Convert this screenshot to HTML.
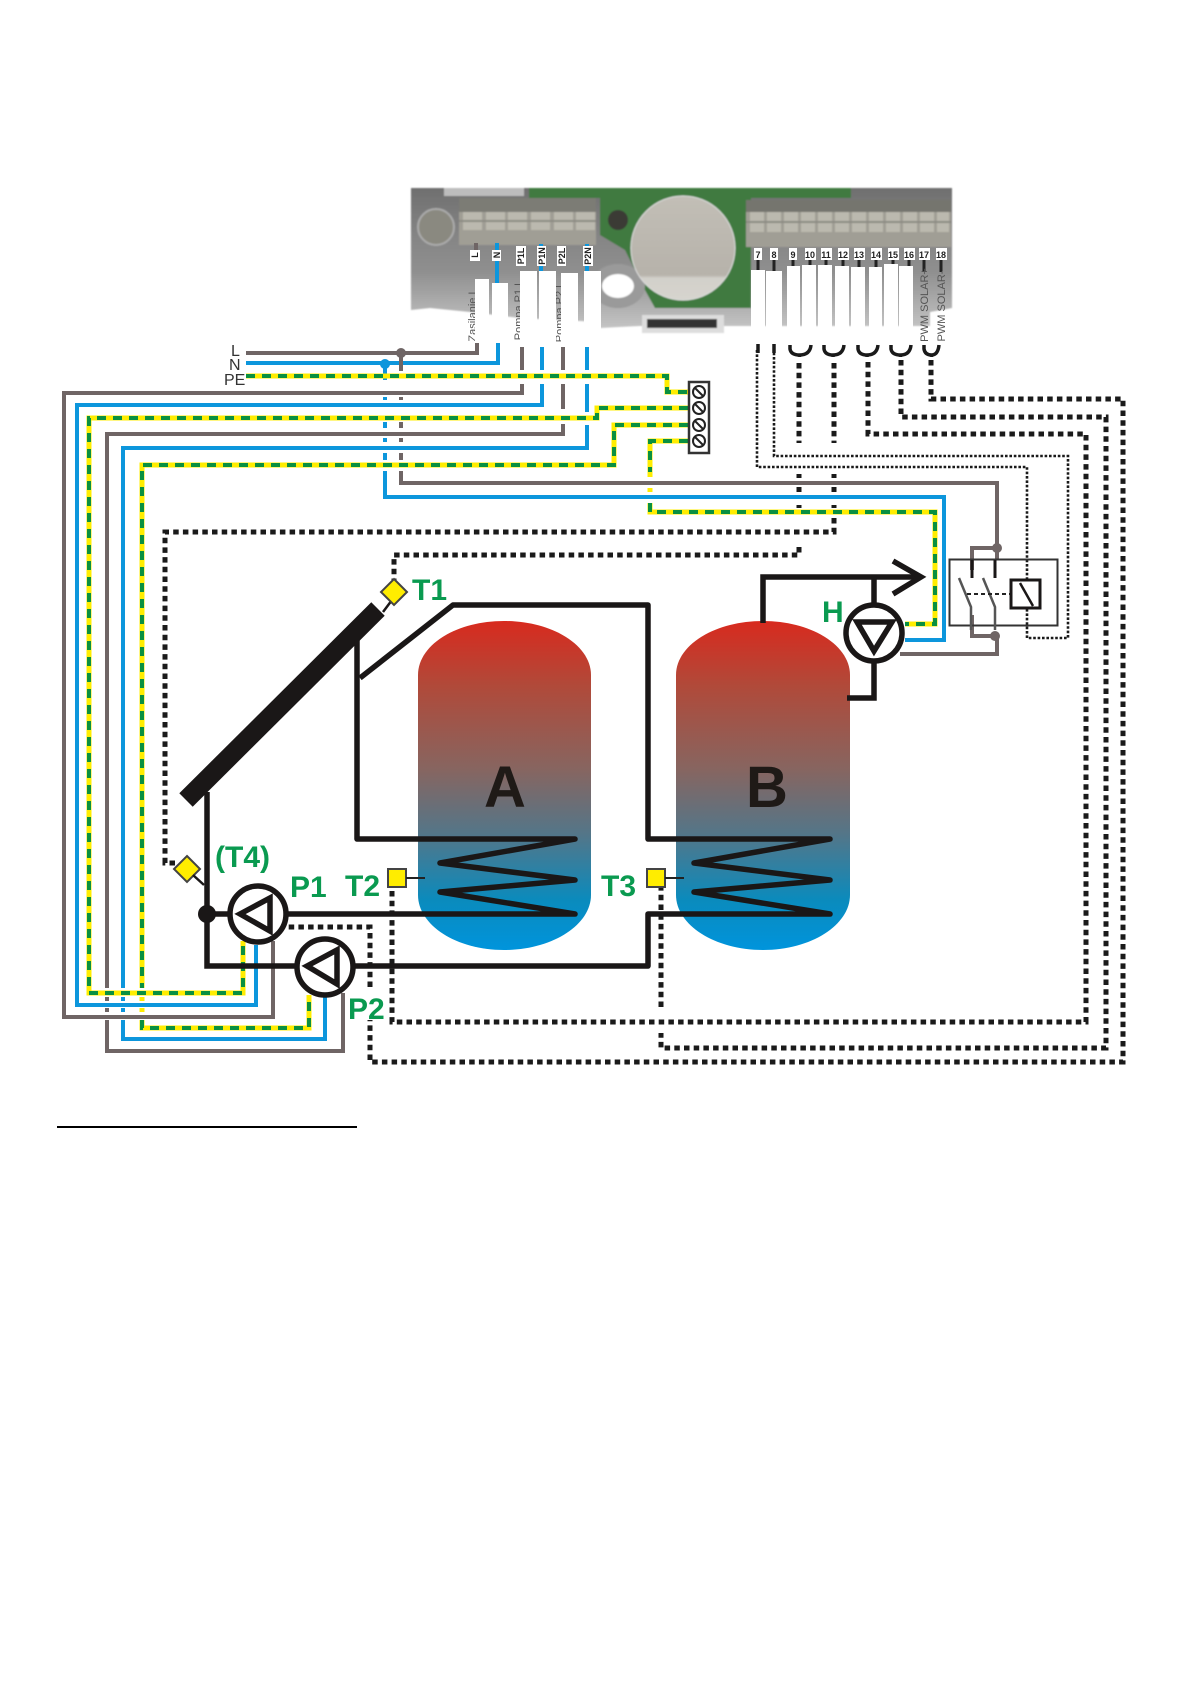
<!DOCTYPE html>
<html><head><meta charset="utf-8"><title>Diagram</title>
<style>
html,body{margin:0;padding:0;background:#fff}
svg{display:block}
text{font-family:"Liberation Sans",sans-serif}
.br{fill:none;stroke:#6f6565;stroke-width:4}
.bl{fill:none;stroke:#0d96dc;stroke-width:4}
.y{fill:none;stroke:#ffed00;stroke-width:5}
.g{fill:none;stroke:#0a9040;stroke-width:4;stroke-dasharray:9 7}
.d{fill:none;stroke:#1a1a1a;stroke-width:5;stroke-dasharray:5.5 4.2}
.t{fill:none;stroke:#1a1a1a;stroke-width:2.6;stroke-dasharray:2.6 1.8}
.k{fill:none;stroke:#1a1717;stroke-width:5.5}
.gt{fill:#0a9a50;font-weight:bold;font-size:30px}
.lb{fill:#222;font-size:9px;font-weight:bold;text-anchor:middle}
.sm{fill:#555;font-size:11px;text-anchor:middle}
</style></head><body>
<svg width="1191" height="1684" viewBox="0 0 1191 1684" xmlns="http://www.w3.org/2000/svg">
<defs>
<linearGradient id="tank" x1="0" y1="0" x2="0" y2="1">
<stop offset="0" stop-color="#d82a1e"/><stop offset=".2" stop-color="#b04a3a"/>
<stop offset=".45" stop-color="#876560"/><stop offset=".65" stop-color="#537689"/>
<stop offset=".85" stop-color="#0a8bbd"/><stop offset="1" stop-color="#0094dc"/>
</linearGradient>
<linearGradient id="base" x1="0" y1="0" x2="0" y2="1">
<stop offset="0" stop-color="#6f6f6f"/><stop offset=".35" stop-color="#858585"/>
<stop offset=".6" stop-color="#8f8f8f"/><stop offset="1" stop-color="#c4c4c4"/>
</linearGradient>
<linearGradient id="knob" x1="0" y1="0" x2="0" y2="1">
<stop offset="0" stop-color="#c2beb6"/><stop offset=".76" stop-color="#b6b2aa"/><stop offset=".79" stop-color="#d2d0ca"/><stop offset="1" stop-color="#d6d4ce"/>
</linearGradient>
<filter id="bl"><feGaussianBlur stdDeviation="0.9"/></filter>
</defs>

<!-- controller board -->
<g filter="url(#bl)">
<path d="M411 188H952V308L930 312V326H640L600 328V322L520 318L470 312L430 308L411 310Z" fill="url(#base)"/>
<rect x="444" y="188" width="80" height="8" fill="#bdbdbd"/>
<path d="M529 188H851V198H751V308H655L645 290L625 250L600 235V198H529Z" fill="#3f7a3f"/>
<circle cx="436" cy="227" r="18" fill="#8a8980" stroke="#aaa" stroke-width="2"/>
<rect x="459" y="198" width="137" height="14" fill="#7c7c75"/>
<rect x="459" y="212" width="137" height="33" fill="#a09e95"/>
<rect x="746" y="200" width="205" height="12" fill="#74746e"/>
<rect x="746" y="212" width="205" height="35" fill="#a09e95"/>
<g fill="#bbb9af">
<rect x="463" y="212" width="19" height="18"/><rect x="486" y="212" width="19" height="18"/><rect x="508" y="212" width="19" height="18"/><rect x="531" y="212" width="19" height="18"/><rect x="554" y="212" width="19" height="18"/><rect x="576" y="212" width="19" height="18"/>
<rect x="750" y="212" width="14" height="20"/><rect x="767" y="212" width="14" height="20"/><rect x="784" y="212" width="14" height="20"/><rect x="801" y="212" width="14" height="20"/><rect x="818" y="212" width="14" height="20"/><rect x="835" y="212" width="14" height="20"/><rect x="852" y="212" width="14" height="20"/><rect x="869" y="212" width="14" height="20"/><rect x="886" y="212" width="14" height="20"/><rect x="903" y="212" width="14" height="20"/><rect x="920" y="212" width="14" height="20"/><rect x="937" y="212" width="12" height="20"/>
</g>
<path d="M459 221H596M746 222H951" stroke="#8c8b83" stroke-width="2"/>
<circle cx="618" cy="220" r="10" fill="#3a3a34"/>
<ellipse cx="618" cy="286" rx="27" ry="22" fill="#9a9a9a"/>
<ellipse cx="618" cy="286" rx="16" ry="12" fill="#fff"/>
<circle cx="683" cy="248" r="52" fill="url(#knob)" stroke="#ddd" stroke-width="1"/>
<rect x="642" y="315" width="82" height="18" fill="#ddd"/>
<rect x="647" y="319" width="70" height="9" fill="#333"/>
</g>

<!-- terminal stubs -->
<path class="br" d="M476 243V252"/>
<path class="bl" d="M497 243V285"/>
<path class="bl" stroke-width="3" d="M541 244V275"/>
<path class="bl" d="M587 244V275"/>
<path d="M924 260V272M941 260V272M758 260V272M774 260V272M793 260V272M810 260V272M826 260V272M843 260V272M859 260V272M876 260V272M893 260V272M909 260V272" fill="none" stroke="#222" stroke-width="3"/>

<!-- terminal tags -->
<g fill="#fff">
<rect x="470" y="250" width="10" height="11"/><rect x="492" y="250" width="9" height="11"/><rect x="516" y="246" width="10" height="20"/><rect x="537" y="246" width="9" height="20"/><rect x="557" y="246" width="9" height="20"/><rect x="583" y="246" width="10" height="20"/>
<rect x="754" y="248" width="8" height="12"/><rect x="770" y="248" width="8" height="12"/><rect x="789" y="248" width="8" height="12"/><rect x="805" y="248" width="11" height="12"/><rect x="821" y="248" width="11" height="12"/><rect x="838" y="248" width="11" height="12"/><rect x="854" y="248" width="11" height="12"/><rect x="871" y="248" width="11" height="12"/><rect x="888" y="248" width="11" height="12"/><rect x="904" y="248" width="11" height="12"/><rect x="919" y="248" width="11" height="12"/><rect x="936" y="248" width="11" height="12"/>
</g>
<g class="lb">
<text transform="translate(478,255) rotate(-90)">L</text>
<text transform="translate(500,255) rotate(-90)">N</text>
<text transform="translate(524,256) rotate(-90)">P1L</text>
<text transform="translate(545,256) rotate(-90)">P1N</text>
<text transform="translate(565,256) rotate(-90)">P2L</text>
<text transform="translate(591,256) rotate(-90)">P2N</text>
<text x="758" y="258">7</text><text x="774" y="258">8</text><text x="793" y="258">9</text><text x="810" y="258">10</text><text x="826" y="258">11</text><text x="843" y="258">12</text><text x="859" y="258">13</text><text x="876" y="258">14</text><text x="893" y="258">15</text><text x="909" y="258">16</text><text x="924" y="258">17</text><text x="941" y="258">18</text>
</g>
<g class="sm">
<text transform="translate(476,315) rotate(-90)">Zasilanie L</text>
<text transform="translate(522,310) rotate(-90)">Pompa P1 L</text>
<text transform="translate(563,312) rotate(-90)">Pompa P2 L</text>
<text transform="translate(928,305) rotate(-90)">PWM SOLAR+</text>
<text transform="translate(945,306) rotate(-90)">PWM SOLAR-</text>
</g>

<!-- white masks over labels -->
<g fill="#fff">
<rect x="475" y="279" width="14" height="64"/><rect x="492" y="283" width="16" height="60"/><rect x="520" y="271" width="17" height="77"/><rect x="539" y="271" width="17" height="77"/><rect x="561" y="273" width="17" height="77"/><rect x="584" y="271" width="17" height="77"/>
<rect x="751" y="270" width="14" height="70"/><rect x="766" y="271" width="16" height="69"/><rect x="787" y="266" width="13" height="74"/><rect x="802" y="265" width="14" height="75"/><rect x="818" y="265" width="14" height="75"/><rect x="835" y="266" width="14" height="74"/><rect x="851" y="267" width="14" height="73"/><rect x="869" y="267" width="13" height="73"/><rect x="884" y="264" width="14" height="76"/><rect x="899" y="266" width="14" height="74"/>
</g>

<!-- L N wires and branches -->
<path class="br" d="M246 353H477V343"/>
<path class="bl" d="M246 363H498V343"/>
<path class="br" d="M401 353V371M401 397V400M401 422V428M401 438V442M401 453V460M401 471V483H997V548M972 570V548H997M997 560V548"/>
<path class="bl" d="M385 363V380M385 397V400M385 422V428M385 438V442M385 453V460M385 471V497H944V640H905"/>
<circle cx="401" cy="353" r="5" fill="#6f6565"/>
<circle cx="385" cy="364" r="5" fill="#0d96dc"/>

<!-- output stubs -->
<path class="br" d="M522 347V370M563 347V370M563 384V409"/>
<path class="bl" d="M542 347V370M587 347V370M587 384V412"/>
<path class="br" d="M522 384V393H64V1017H273V941"/>
<path class="bl" d="M542 384V405H77V1005H256V945"/>
<path class="br" d="M563 424V434H107V988M107 997V1001M107 1008V1012M107 1020V1051H343V993"/>
<path class="bl" d="M587 425V448H123V988M123 997V1001M123 1008V1012M123 1020V1039H325V997"/>

<!-- PE yellow/green wires -->
<path class="y" d="M246 376H667V392H688"/><path class="g" d="M246 376H667V392H688"/>
<path class="y" d="M688 408H597V418H89V993H243V941"/><path class="g" d="M688 408H597V418H89V993H243V941"/>
<path class="y" d="M688 425H614V465H142V988M142 997V1001M142 1008V1012M142 1020V1028H309V995"/><path class="g" d="M688 425H614V465H142V988M142 1020V1028H309V995"/>
<path class="y" d="M688 441H650V477M650 488V492M650 503V512H935V624H905"/><path class="g" d="M688 441H650V472M650 503V512H935V624H905"/>

<!-- terminal bar -->
<rect x="689" y="382" width="20" height="71" fill="#fff" stroke="#333" stroke-width="2.5"/>
<g fill="#fff" stroke="#222" stroke-width="2">
<circle cx="699" cy="392" r="6"/><circle cx="699" cy="408" r="6"/><circle cx="699" cy="425" r="6"/><circle cx="699" cy="441" r="6"/>
</g>
<path d="M695 388L703 396M695 404L703 412M695 421L703 429M695 437L703 445" stroke="#222" stroke-width="2"/>

<text x="231" y="356" font-size="16" fill="#333">L</text>
<text x="229" y="370" font-size="16" fill="#333">N</text>
<text x="224" y="385" font-size="16" fill="#333">PE</text>

<!-- signal wiring -->
<path d="M790 345V349Q791 355 799.500 355V357M799.500 355Q810 355 811 345M824 345V349Q825 355 833 355V357M833 355Q843 355 844 345M858 345V349Q859 355 867 355V357M867 355Q877 355 878 345M891 345V349Q892 355 900.500 355V357M900.500 355Q910 355 911 345M924 345V349Q925 355 931.500 355V357M931.500 355Q938 355 939 345" fill="none" stroke="#1a1a1a" stroke-width="3.500"/>
<path d="M758 344V353M774 344V353" stroke="#1a1a1a" stroke-width="3.500"/>
<path class="t" d="M757 350V467H1027V579M1027 609V638H1068V456H774V350"/>
<path class="d" d="M799 363V443M834 363V443M799 474V478M834 474V478M799 487V492M834 487V492M799 505V508M834 505V508M834 518V532H165V863H176"/>
<path class="d" d="M799 547V555H394V582"/>
<path class="d" d="M868 362V434H1086V1022H392V887"/>
<path class="d" d="M901 360V417H1106V1048H664H661V1033M661 1007V888"/>
<path class="d" d="M931 360V399H1123V1062H370V1020M370 987V927H287"/>

<!-- tanks -->
<path d="M418 675C418 645 456 621 504 621C552 621 591 645 591 675V895C591 925 552 950 504 950C456 950 418 925 418 895Z" fill="url(#tank)"/>
<path d="M676 675C676 645 715 621 763 621C811 621 850 645 850 675V895C850 925 811 950 763 950C715 950 676 925 676 895Z" fill="url(#tank)"/>
<text x="505" y="807" font-size="58" font-weight="bold" fill="#1f1a17" text-anchor="middle">A</text>
<text x="767" y="807" font-size="58" font-weight="bold" fill="#1f1a17" text-anchor="middle">B</text>

<!-- collector -->
<path d="M186 800L378 609" stroke="#1a1717" stroke-width="19" fill="none"/>
<path d="M383 612L392 600" stroke="#1a1717" stroke-width="2.500"/>
<polygon points="394,579 407,592 394,605 381,592" fill="#ffed00" stroke="#444" stroke-width="2"/>

<!-- hydraulic pipes -->
<path class="k" d="M207 792V966H300"/>
<path class="k" d="M207 914H232"/>
<path class="k" stroke-linejoin="round" d="M357 640V839H575L440 863L575 880L440 892L575 914H285"/>
<path class="k" stroke-linejoin="round" d="M360 678L453 605H648V839H830L694 863L830 880L694 892L830 914H648V966H355"/>
<circle cx="207" cy="914" r="9" fill="#1a1717"/>
<path class="k" d="M763 623V577H918"/>
<path class="k" d="M874 577V605M874 660V698H847"/>
<path class="k" stroke-width="7" d="M893 561L921 577L893 594"/>

<!-- pumps -->
<circle cx="258" cy="914" r="28" fill="#fff" stroke="#1a1717" stroke-width="5.500"/>
<polygon points="240,914 270,898 270,931" fill="none" stroke="#1a1717" stroke-width="5.500"/>
<circle cx="325" cy="967" r="28" fill="#fff" stroke="#1a1717" stroke-width="5.500"/>
<polygon points="307,966 337,950 337,984" fill="none" stroke="#1a1717" stroke-width="5.500"/>
<circle cx="874" cy="633" r="28" fill="#fff" stroke="#1a1717" stroke-width="5.500"/>
<polygon points="857,622 892,622 874,651" fill="none" stroke="#1a1717" stroke-width="5.500"/>
<path class="br" d="M900 654H997V636H972V615"/>
<circle cx="997" cy="548" r="5" fill="#6f6565"/>
<circle cx="995" cy="636" r="5" fill="#6f6565"/>

<!-- relay -->
<rect x="949.500" y="559.500" width="108" height="66" fill="none" stroke="#333" stroke-width="2"/>
<path d="M972 560V578M995 560V578" stroke="#1a1717" stroke-width="3"/>
<path d="M959 578L971 607V630M983 578L995 607V630" fill="none" stroke="#555" stroke-width="2.500"/>
<path d="M967 594H1011" stroke="#222" stroke-width="2" stroke-dasharray="4 3"/>
<rect x="1011" y="580" width="29" height="28" fill="#fff" stroke="#1a1717" stroke-width="3"/>
<path d="M1020 583L1033 606" stroke="#1a1717" stroke-width="2.500"/>

<!-- sensors -->
<polygon points="187,856 200,869 187,882 174,869" fill="#ffed00" stroke="#444" stroke-width="2"/>
<path d="M193 875L204 885" stroke="#1a1717" stroke-width="2.500"/>
<rect x="388" y="869" width="18" height="18" fill="#ffed00" stroke="#444" stroke-width="2"/>
<path d="M406 878H425" stroke="#222" stroke-width="2"/>
<rect x="647" y="869" width="18" height="18" fill="#ffed00" stroke="#444" stroke-width="2"/>
<path d="M665 878H684" stroke="#222" stroke-width="2"/>

<!-- labels -->
<text class="gt" x="412" y="600">T1</text>
<text class="gt" x="345" y="896">T2</text>
<text class="gt" x="601" y="896">T3</text>
<text class="gt" x="215" y="867">(T4)</text>
<text class="gt" x="290" y="897">P1</text>
<text class="gt" x="348" y="1019">P2</text>
<text class="gt" x="822" y="622">H</text>

<rect x="57" y="1126" width="300" height="2" fill="#000"/>
</svg>
</body></html>
